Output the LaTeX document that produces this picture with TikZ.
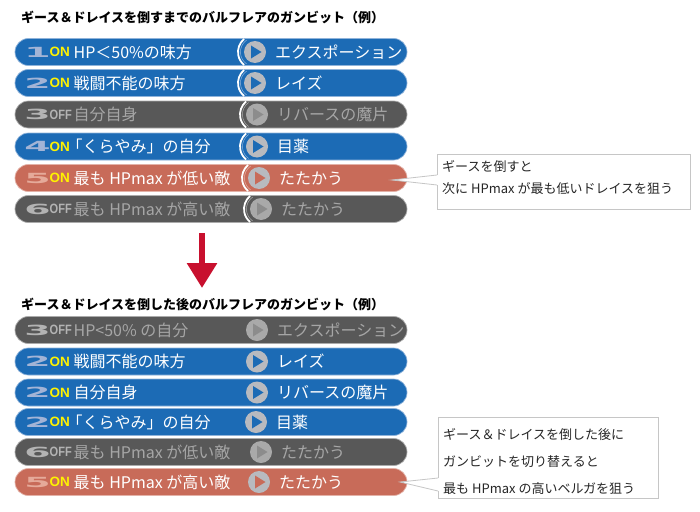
\documentclass[tikz,border=0pt]{standalone}
\usepackage{fontspec}
\usepackage{graphicx}
\setmainfont{Noto Sans CJK JP}
\newfontfamily\numfont{DejaVu Sans}
\newfontfamily\latfont{Liberation Sans}
\usetikzlibrary{shapes.misc,arrows.meta}
\definecolor{fillblue}{HTML}{1C6BB5}
\definecolor{fillred}{HTML}{C86B59}
\definecolor{fillgray}{HTML}{585858}
\definecolor{rimblue}{HTML}{8FB3DA}
\definecolor{rimred}{HTML}{E3B2A8}
\definecolor{rimgray}{HTML}{ABABAB}
\definecolor{numblue}{HTML}{A3B4D6}
\definecolor{numred}{HTML}{E5AA9A}
\definecolor{numgray}{HTML}{B3B3B3}
\definecolor{onblue}{HTML}{FFF200}
\definecolor{onred}{HTML}{FFF200}
\definecolor{ongray}{HTML}{B3B3B3}
\definecolor{txtblue}{HTML}{FFFFFF}
\definecolor{txtred}{HTML}{FFFFFF}
\definecolor{txtgray}{HTML}{A6A6A6}
\definecolor{circblue}{HTML}{B8BABF}
\definecolor{circred}{HTML}{B8BABF}
\definecolor{circgray}{HTML}{A9A9A9}
\definecolor{triblue}{HTML}{1C6BB5}
\definecolor{trired}{HTML}{C86B59}
\definecolor{trigray}{HTML}{8C8C8C}
\definecolor{boxgray}{HTML}{C6C6C6}
\definecolor{arrowred}{HTML}{C8102E}
\newcommand\offtxt{\scalebox{0.82}[1]{OFF}}
\newcommand\gbrow[9]{%
  \node[pill, fill=fill#3, draw=rim#3] (#1) at (211,#2) {};
  \node[circle, fill=circ#3, minimum size=22pt, inner sep=0pt] (#1c) at (#8,#2) {};
  \ifnum#9=1
    \draw[white, line width=1.8pt] ([shift={(130:17pt)}]#1c.center) arc[start angle=130, end angle=230, radius=17pt];
    \draw[rim#3, line width=0.5pt] ([shift={(125:14.6pt)}]#1c.center) arc[start angle=125, end angle=235, radius=14.6pt];
  \fi
  \fill[tri#3] ([shift={(-4pt,6.5pt)}]#1c.center) -- ([shift={(6.5pt,0pt)}]#1c.center) -- ([shift={(-4pt,-6.5pt)}]#1c.center) -- cycle;
  \node[numstyle, text=num#3, anchor=base] (#1n) at (37.5,{#2+5}) {#4};
  \node[onstyle, text=on#3, anchor=base west] (#1o) at (49.5,{#2+4.8}) {#5};
  \node[rowtext, text=txt#3, anchor=base west] (#1l) at (73.5,{#2+6}) {#6};
  \node[rowtext, text=txt#3, anchor=base west] (#1r) at ({#8+20},{#2+6}) {#7};
}
\tikzset{
  pill/.style={rounded rectangle, minimum width=392pt, minimum height=27pt, inner sep=0pt, line width=0.7pt},
  numstyle/.style={font=\numfont\bfseries\fontsize{14}{14}\selectfont, inner sep=0pt, xscale=2.7},
  onstyle/.style={font=\latfont\bfseries\fontsize{13.5}{13.5}\selectfont, inner sep=0pt},
  rowtext/.style={font=\fontsize{16}{16}\selectfont, inner sep=0pt},
  titletext/.style={font=\bfseries\fontsize{13}{13}\selectfont, inner sep=0pt, anchor=base west},
  notetext/.style={font=\fontsize{13}{13}\selectfont, inner sep=0pt, anchor=base west, text=black!85},
  notebox/.style={draw=boxgray, fill=white, line width=0.8pt, inner sep=0pt, anchor=north west},
}
\begin{document}
\begin{tikzpicture}[x=1pt,y=-1pt]
\fill[white] (0,0) rectangle (700,511);
\useasboundingbox (0,0) rectangle (700,511);
% top section
\node[titletext] (title1) at (21,22.5) {ギース＆ドレイスを倒すまでのバルフレアのガンビット（例）};
\gbrow{ra}{52}{blue}{1}{ON}{HP＜50\%の味方}{エクスポーション}{255}{1}
\gbrow{rb}{83}{blue}{2}{ON}{戦闘不能の味方}{レイズ}{255}{1}
\gbrow{rc}{114.5}{gray}{3}{\offtxt}{自分自身}{リバースの魔片}{257}{1}
\gbrow{rd}{146.5}{blue}{4}{ON}{\kern-0.45em「くらやみ」の自分}{目薬}{257}{1}
\gbrow{re}{178}{red}{5}{ON}{最も HPmax が低い敵}{たたかう}{259}{1}
\gbrow{rf}{209}{gray}{6}{\offtxt}{最も HPmax が高い敵}{たたかう}{261}{1}
% callout 1
\node[notebox, minimum width=253pt, minimum height=55pt] (box1) at (437,154) {};
\fill[white] (437.8,175) -- (392,180) -- (437.8,185) -- cycle;
\draw[boxgray, line width=0.8pt] (box1.west |- 0,175) -- (392,180) -- (box1.west |- 0,185);
\node[notetext] (n1a) at (442,171) {ギースを倒すと};
\node[notetext] (n1b) at (442,193.5) {次に HPmax が最も低いドレイスを狙う};
% arrow
\coordinate (arrtop) at (202,233);
\coordinate (arrtip) at (202,288);
\draw[arrowred, line width=6pt, -{Triangle[width=29pt,length=25pt]}] (arrtop) -- (arrtip);
% bottom section
\node[titletext] (title2) at (21,309) {ギース＆ドレイスを倒した後のバルフレアのガンビット（例）};
\gbrow{sa}{330}{gray}{3}{\offtxt}{HP<50\% の自分}{エクスポーション}{257}{0}
\gbrow{sb}{361.5}{blue}{2}{ON}{戦闘不能の味方}{レイズ}{257}{0}
\gbrow{sc}{392.5}{blue}{2}{ON}{自分自身}{リバースの魔片}{257}{0}
\gbrow{sd}{422}{blue}{2}{ON}{\kern-0.45em「くらやみ」の自分}{目薬}{256}{0}
\gbrow{se}{452}{gray}{6}{\offtxt}{最も HPmax が低い敵}{たたかう}{261}{0}
\gbrow{sf}{482}{red}{5}{ON}{最も HPmax が高い敵}{たたかう}{259}{0}
% callout 2
\node[notebox, minimum width=220pt, minimum height=81pt] (box2) at (438,417) {};
\fill[white] (438.8,478) -- (400,482) -- (438.8,491) -- cycle;
\draw[boxgray, line width=0.8pt] (box2.west |- 0,478) -- (400,482) -- (box2.west |- 0,491);
\node[notetext] (n2a) at (443,439) {ギース＆ドレイスを倒した後に};
\node[notetext] (n2b) at (443,466) {ガンビットを切り替えると};
\node[notetext] (n2c) at (443,493) {最も HPmax の高いベルガを狙う};
\end{tikzpicture}
\end{document}
